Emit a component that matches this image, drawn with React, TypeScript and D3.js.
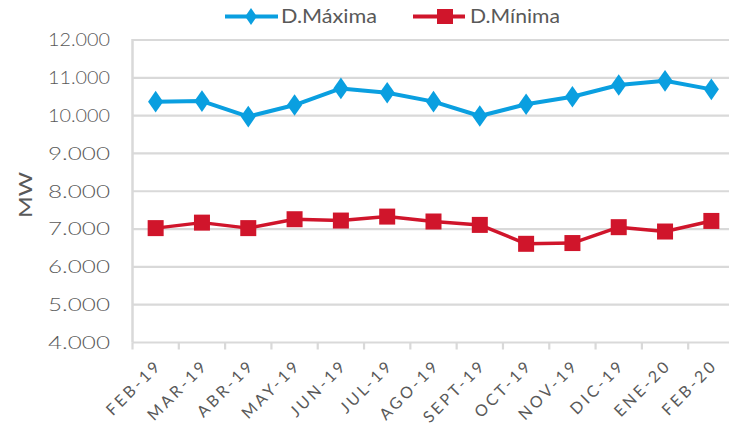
import React from "react";
import * as d3 from "d3";

const categories = ["FEB-19","MAR-19","ABR-19","MAY-19","JUN-19","JUL-19","AGO-19","SEPT-19","OCT-19","NOV-19","DIC-19","ENE-20","FEB-20"];
const maxima = [10370,10385,9975,10280,10720,10605,10370,9990,10300,10500,10810,10920,10695];
const minima = [7025,7170,7025,7260,7225,7330,7200,7110,6610,6630,7050,6935,7215];
const yTicks = [4000,5000,6000,7000,8000,9000,10000,11000,12000];
const seriesNames = ["D.Máxima","D.Mínima"];

const W = 729, H = 431;
const BLUE = "#0A9FE0";
const RED = "#D0152B";
const GRID = "#D9D9D9";
const TEXT = "#595959";
const FONT = "Lato, 'Open Sans', sans-serif";

export default function App() {
  const x = d3.scaleBand<string>().domain(categories).range([132.5, 734.5]).paddingInner(0).paddingOuter(0);
  const y = d3.scaleLinear().domain([4000, 12000]).range([342.5, 40]);
  const cx = (c: string) => (x(c) as number) + x.bandwidth() / 2;
  const fmt = (v: number) => d3.format(",")(v).replace(/,/g, ".");
  const line = d3.line<number>().x((_, i) => cx(categories[i])).y((d) => y(d));
  const boundaries = categories.map((c) => x(c) as number);
  boundaries.push(x.range()[1]);

  return (
    <svg width={W} height={H} style={{ position: "absolute", left: 0, top: 0, background: "#fff" }}>
      {yTicks.map((t) => (
        <line key={t} x1={132.5} x2={W} y1={y(t)} y2={y(t)} stroke={GRID} strokeWidth={2.2} />
      ))}
      <line x1={132.5} x2={132.5} y1={y(12000) - 1} y2={y(4000)} stroke={GRID} strokeWidth={2.5} />
      {boundaries.map((b, i) => (
        <line key={i} x1={b} x2={b} y1={y(4000)} y2={y(4000) + 7} stroke={GRID} strokeWidth={2.2} />
      ))}
      {yTicks.map((t) => (
        <text key={t} x={110} y={y(t)} dy="0.35em" textAnchor="end" fill={TEXT} fontFamily={FONT} fontSize={18} fontWeight={300} textLength={62} lengthAdjust="spacingAndGlyphs">{fmt(t)}</text>
      ))}
      <text transform="translate(32,195) rotate(-90)" textAnchor="middle" fill={TEXT} fontFamily={FONT} fontSize={18} textLength={46} lengthAdjust="spacingAndGlyphs">MW</text>
      {categories.map((c) => (
        <text key={c} transform={`translate(${cx(c) + 7},${y(4000) + 24}) rotate(-45)`} textAnchor="end" fill={TEXT} fontFamily={FONT} fontSize={16} letterSpacing={2.9}>{c}</text>
      ))}
      <path d={line(maxima) || ""} fill="none" stroke={BLUE} strokeWidth={4} strokeLinejoin="round" />
      {maxima.map((v, i) => (
        <path key={i} d={d3.symbol(d3.symbolDiamond, 150)() || ""} transform={`translate(${cx(categories[i])},${y(v)}) scale(1.15,0.95)`} fill={BLUE} />
      ))}
      <path d={line(minima) || ""} fill="none" stroke={RED} strokeWidth={3.5} strokeLinejoin="round" />
      {minima.map((v, i) => (
        <rect key={i} x={cx(categories[i]) - 8} y={y(v) - 8} width={16} height={16} fill={RED} />
      ))}
      {/* legend */}
      <line x1={225} x2={278} y1={16.5} y2={16.5} stroke={BLUE} strokeWidth={4} />
      <path d={d3.symbol(d3.symbolDiamond, 90)() || ""} transform="translate(251,16.5) scale(1.15,0.95)" fill={BLUE} />
      <text x={281} y={16.5} dy="0.36em" fill={TEXT} fontFamily={FONT} fontSize={19} textLength={96} lengthAdjust="spacingAndGlyphs">{seriesNames[0]}</text>
      <line x1={413} x2={465} y1={16.5} y2={16.5} stroke={RED} strokeWidth={4} />
      <rect x={437} y={9} width={16} height={15} fill={RED} />
      <text x={470} y={16.5} dy="0.36em" fill={TEXT} fontFamily={FONT} fontSize={19} textLength={90} lengthAdjust="spacingAndGlyphs">{seriesNames[1]}</text>
    </svg>
  );
}
